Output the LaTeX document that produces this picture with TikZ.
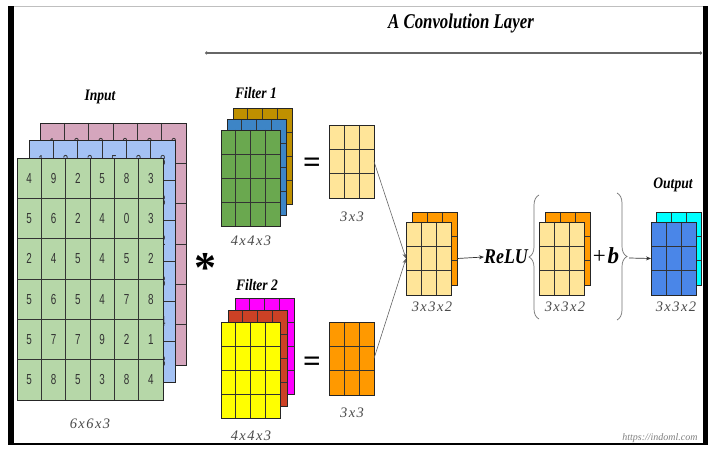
\documentclass[tikz,border=0pt]{standalone}
\usepackage{fontspec}
\setmainfont{Liberation Serif}
\newfontfamily\labfont[FakeStretch=0.85]{Liberation Serif}
\newfontfamily\titlefont[FakeStretch=0.8]{Liberation Serif}
\newfontfamily\numfont[FakeStretch=0.68]{Liberation Sans}
\newfontfamily\dimfont[LetterSpace=10]{Liberation Serif}
\usetikzlibrary{calc,decorations.pathreplacing,arrows.meta}

% palette
\definecolor{inGreen}{HTML}{B6D7A8}
\definecolor{inBlue}{HTML}{A4C2F4}
\definecolor{inPink}{HTML}{D5A6BD}
\definecolor{fGold}{HTML}{BF9000}
\definecolor{fBlue}{HTML}{3D85C6}
\definecolor{fGreen}{HTML}{6AA84F}
\definecolor{fMagenta}{HTML}{FF00FF}
\definecolor{fRed}{HTML}{CC4125}
\definecolor{fYellow}{HTML}{FFFF00}
\definecolor{mapYellow}{HTML}{FFE599}
\definecolor{mapOrange}{HTML}{FF9900}
\definecolor{outCyan}{HTML}{00FFFF}
\definecolor{outBlue}{HTML}{4A86E8}
\definecolor{dimGray}{HTML}{4A4A4A}
\definecolor{numGray}{HTML}{333333}

\tikzset{
  layer/.style={draw=black!85, line width=0.8pt, anchor=north west,
    inner sep=0pt, outer sep=0pt},
  gridline/.style={draw=black!80, line width=0.6pt},
  cells/.style n args={2}{path picture={
    \foreach \k in {1,...,#1}{
      \draw[gridline]
        ($(path picture bounding box.north west)!\k/#1!(path picture bounding box.north east)$) --
        ($(path picture bounding box.south west)!\k/#1!(path picture bounding box.south east)$);}
    \foreach \k in {1,...,#2}{
      \draw[gridline]
        ($(path picture bounding box.north west)!\k/#2!(path picture bounding box.south west)$) --
        ($(path picture bounding box.north east)!\k/#2!(path picture bounding box.south east)$);}
  }},
  inlayer/.style={layer, minimum width=146pt, minimum height=242pt, cells={6}{6}},
  flayer/.style={layer, minimum width=59pt, minimum height=96pt, cells={4}{4}},
  maplayer/.style={layer, minimum width=45pt, minimum height=73pt, cells={3}{3}},
  num/.style={font=\numfont\fontsize{14.5}{14.5}\selectfont, text=numGray, inner sep=0pt},
  heading/.style={font=\labfont\bfseries\itshape\fontsize{16}{16}\selectfont, inner sep=0pt},
  dimlabel/.style={font=\dimfont\itshape\fontsize{14.5}{14.5}\selectfont, text=dimGray, inner sep=0pt},
  op/.style={font=\bfseries\fontsize{31}{31}\selectfont, inner sep=0pt},
  conn/.style={draw=black!60, line width=0.6pt, -{Stealth[length=5pt,width=4pt]}},
  flow/.style={draw=black!80, line width=0.7pt, -{Stealth[length=5pt,width=4pt]}},
  brc/.style={draw=black!55, line width=0.7pt,
    decoration={brace, amplitude=10pt}, decorate},
}

\begin{document}
\begin{tikzpicture}[x=1pt, y=-1pt]
  \useasboundingbox (0,0) rectangle (715,449);
  \fill[white] (0,0) rectangle (715,449);

  % frame
  \fill[black] (8,6) rectangle (14,445);
  \fill[black] (703,6) rectangle (708,445);
  \fill[black] (14,443) rectangle (703,445);
  \draw[black!25, line width=1pt] (14,7) -- (703,7);

  % title and its span line
  \node[font=\titlefont\bfseries\itshape\fontsize{21}{21}\selectfont, inner sep=0pt] (title) at (461,23) {A Convolution Layer};
  \coordinate (spanL) at (205,53);
  \coordinate (spanR) at (702,53);
  \draw[black!60, line width=1.2pt, {Circle[length=3pt]}-{Circle[length=3pt]}] (spanL) -- (spanR);

  % ---------------- input volume ----------------
  \node[heading] (inLabel) at (100,97) {Input};
  % back sheets: only their top row and right column peek out
  \node[inlayer, fill=inPink] (inP) at (40,123) {};
  \foreach \v [count=\c] in {1,2,2,2,2,2}
    \node[num] (npt-\c) at ($(inP.north west)+({(\c-0.5)*146/6},{0.5*242/6})$) {\v};
  \foreach \v [count=\r from 2] in {3,2,3,1,2}
    \node[num] (npr-\r) at ($(inP.north west)+({5.5*146/6},{(\r-0.5)*242/6})$) {\v};
  \node[inlayer, fill=inBlue] (inB) at (29,140) {};
  \foreach \v [count=\c] in {1,2,2,5,3,8}
    \node[num] (nbt-\c) at ($(inB.north west)+({(\c-0.5)*146/6},{0.5*242/6})$) {\v};
  \foreach \v [count=\r from 2] in {3,2,8,4,3}
    \node[num] (nbr-\r) at ($(inB.north west)+({5.5*146/6},{(\r-0.5)*242/6})$) {\v};
  \node[inlayer, fill=inGreen] (inG) at (17,158) {};
  \foreach \row [count=\r] in {{4,9,2,5,8,3},{5,6,2,4,0,3},{2,4,5,4,5,2},{5,6,5,4,7,8},{5,7,7,9,2,1},{5,8,5,3,8,4}}{
    \foreach \v [count=\c] in \row {
      \node[num] (ng-\r-\c) at ($(inG.north west)+({(\c-0.5)*146/6},{(\r-0.5)*242/6})$) {\v};
    }}
  \node[dimlabel] (inDim) at (90,424) {6x6x3};

  \node[font=\bfseries\fontsize{44}{44}\selectfont, inner sep=0pt, anchor=base] (conv) at (205,283) {*};

  % ---------------- filter 1 ----------------
  \node[heading] (f1Label) at (256,93) {Filter 1};
  \node[flayer, fill=fGold] (f1c) at (233,108) {};
  \node[flayer, fill=fBlue] (f1b) at (227,119) {};
  \node[flayer, fill=fGreen] (f1a) at (221,130) {};
  \node[dimlabel] (f1Dim) at (251,241) {4x4x3};
  \node[op] (eq1) at (312,165) {=};
  \node[maplayer, fill=mapYellow] (map1) at (329,125) {};
  \node[dimlabel] (map1Dim) at (352,217) {3x3};

  % ---------------- filter 2 ----------------
  \node[heading] (f2Label) at (257,285) {Filter 2};
  \node[flayer, fill=fMagenta] (f2c) at (235,298) {};
  \node[flayer, fill=fRed] (f2b) at (228,310) {};
  \node[flayer, fill=fYellow] (f2a) at (221,322) {};
  \node[dimlabel] (f2Dim) at (251,436) {4x4x3};
  \node[op] (eq2) at (312,364) {=};
  \node[maplayer, fill=mapOrange] (map2) at (329,322) {};
  \node[dimlabel] (map2Dim) at (352,413) {3x3};

  % ---------------- stacked feature maps ----------------
  \node[maplayer, fill=mapOrange] (stB) at (412,212) {};
  \node[maplayer, fill=mapYellow] (stF) at (406,222) {};
  \node[dimlabel] (stDim) at (432,307) {3x3x2};
  \draw[conn] (map1.east) -- (stF.west);
  \draw[conn] (map2.east) -- (stF.west);

  \node[font=\labfont\bfseries\itshape\fontsize{21}{21}\selectfont, inner sep=0pt] (relu) at (506,257) {ReLU};
  \draw[flow] (stF.east -| stB.east) -- (relu.west);

  \coordinate (braceLa) at (539,319);
  \coordinate (braceLb) at (539,195);
  \draw[brc] (braceLa) -- (braceLb);

  \node[maplayer, fill=mapOrange] (acB) at (545,212) {};
  \node[maplayer, fill=mapYellow] (acF) at (539,222) {};
  \node[dimlabel] (acDim) at (565,307) {3x3x2};

  \node[font=\fontsize{23}{23}\selectfont, inner sep=0pt] (bias) at (606,256) {+\kern2pt\textbf{\textit{b}}};

  \coordinate (braceRa) at (617,193);
  \coordinate (braceRb) at (617,320);
  \draw[brc] (braceRa) -- (braceRb);
  \coordinate (braceTip) at (629,258);

  % ---------------- output ----------------
  \node[heading] (outLabel) at (673,185) {Output};
  \node[maplayer, fill=outCyan] (outB) at (656,212) {};
  \node[maplayer, fill=outBlue] (outF) at (651,222) {};
  \node[dimlabel] (outDim) at (676,307) {3x3x2};
  \draw[flow] (braceTip) -- (outF.west);

  \node[font=\itshape\fontsize{10}{10}\selectfont, text=black!50, inner sep=0pt] (url) at (660,438) {https://indoml.com};
\end{tikzpicture}
\end{document}
